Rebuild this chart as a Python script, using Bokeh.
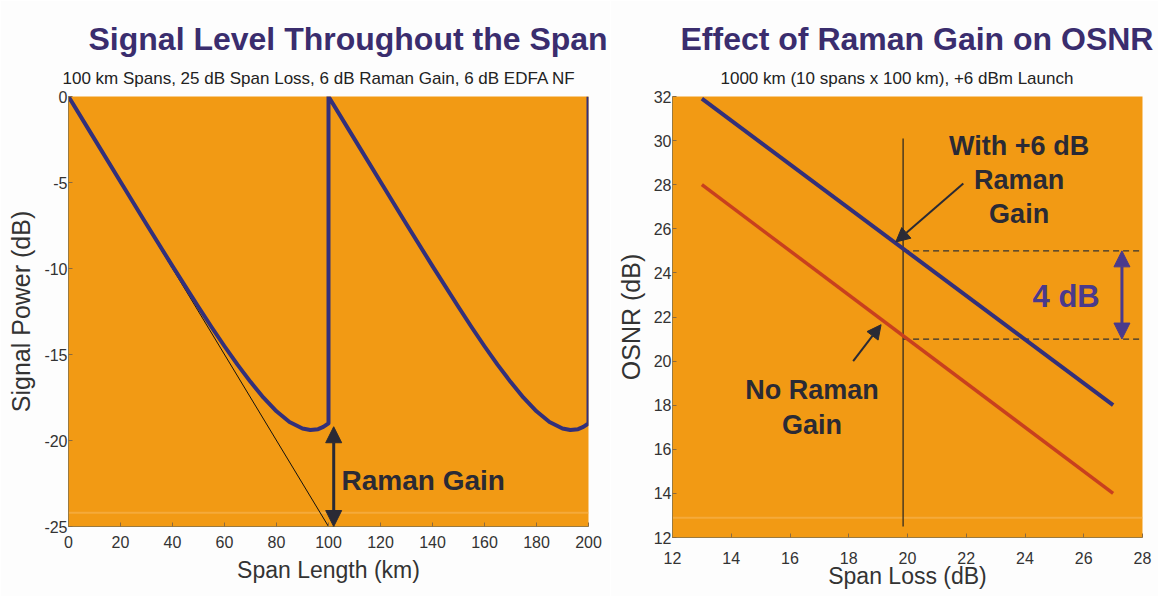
from bokeh.plotting import figure
from bokeh.layouts import row
from bokeh.models import (Title, Arrow, NormalHead, Label, FixedTicker, Range1d,
                          CustomJSTickFormatter)
from bokeh.embed import file_html
from bokeh.resources import INLINE

# ---------------- data ----------------
# Left: signal level through two 100 km spans (with Raman gain)
span_km = [0, 10, 20, 30, 40, 50, 55, 60, 65, 70, 75, 80, 85, 90, 93, 96, 98, 100,
           100, 110, 120, 130, 140, 150, 155, 160, 165, 170, 175, 180, 185, 190, 193, 196, 198, 200, 200]
signal_db = [0, -2.48, -4.96, -7.43, -9.86, -12.24, -13.40, -14.52, -15.59, -16.59, -17.51, -18.30,
             -18.92, -19.30, -19.39, -19.34, -19.21, -19.0,
             0, -2.48, -4.96, -7.43, -9.86, -12.24, -13.40, -14.52, -15.59, -16.59, -17.51, -18.30,
             -18.92, -19.30, -19.39, -19.34, -19.21, -19.0, 0]
# Left: no-Raman linear loss
noraman_km = [0, 100]
noraman_db = [0, -25]

left_xticks = [0, 20, 40, 60, 80, 100, 120, 140, 160, 180, 200]
left_yticks = [-25, -20, -15, -10, -5, 0]

# Right: OSNR vs span loss
span_loss = [13, 27]
osnr_raman = [31.9, 18.0]
osnr_no_raman = [28.0, 14.0]
ref_loss = [19.85, 19.85]
ref_osnr = [12.5, 30.1]
level_raman = 25
level_no_raman = 21

right_xticks = [12, 14, 16, 18, 20, 22, 24, 26, 28]
right_yticks = [12, 14, 16, 18, 20, 22, 24, 26, 28, 30, 32]

# ---------------- style ----------------
ORANGE = "#F29A14"
BAND = "#F6B04A"
NAVY = "#33307A"
RED = "#C8401E"
TITLE_C = "#3A2D6E"
DARK = "#2A2A35"
TXT = "#333333"
FONT = "Liberation Sans"


def style(p, xticks, yticks, x_standoff, x_label_standoff):
    p.frame_align = False
    p.background_fill_color = ORANGE
    p.border_fill_color = "#FDFDFD"
    p.outline_line_color = None
    p.xgrid.visible = False
    p.ygrid.visible = False
    for ax in (p.xaxis[0], p.yaxis[0]):
        ax.axis_line_color = "#9a7a40"
        ax.major_tick_in = 4
        ax.major_tick_out = 0
        ax.major_tick_line_color = "#8a6a40"
        ax.minor_tick_line_color = None
        ax.major_label_text_font = FONT
        ax.major_label_text_font_size = "16px"
        ax.major_label_text_color = TXT
        ax.axis_label_text_font = FONT
        ax.axis_label_text_font_style = "normal"
        ax.axis_label_text_color = TXT
        ax.formatter = CustomJSTickFormatter(code="return tick.toString();")
    p.xaxis[0].axis_label_text_font_size = "23px"
    p.yaxis[0].axis_label_text_font_size = "25px"
    p.xaxis[0].ticker = FixedTicker(ticks=xticks)
    p.yaxis[0].ticker = FixedTicker(ticks=yticks)
    p.xaxis[0].major_label_standoff = x_standoff
    p.yaxis[0].major_label_standoff = 1
    p.xaxis[0].axis_label_standoff = x_label_standoff
    p.yaxis[0].axis_label_standoff = 6


def titles(p, main, sub, main_off, sub_off):
    p.title.text = main
    p.title.align = "left"
    p.title.offset = main_off
    p.title.text_font = FONT
    p.title.text_font_size = "32px"
    p.title.text_font_style = "bold"
    p.title.text_color = TITLE_C
    p.title.standoff = 2
    p.add_layout(Title(text=sub, align="left", offset=sub_off, text_font=FONT,
                       text_font_size="17px", text_font_style="normal",
                       text_color="#222222", standoff=18), "above")


# ---------------- left figure ----------------
p1 = figure(width=610, height=596, output_backend="svg", toolbar_location=None,
            x_range=Range1d(0, 200), y_range=Range1d(-25, 0),
            x_axis_label="Span Length (km)", y_axis_label="Signal Power (dB)",
            min_border_left=68, min_border_right=22, min_border_top=96, min_border_bottom=70)
style(p1, left_xticks, left_yticks, 9, 6)
titles(p1, "Signal Level Throughout the Span",
       "100 km Spans, 25 dB Span Loss, 6 dB Raman Gain, 6 dB EDFA NF", 20, -6)

p1.line([0, 200], [-24.2, -24.2], line_color=BAND, line_width=2, line_alpha=0.7)
p1.line(noraman_km, noraman_db, line_color="#111111", line_width=1)
p1.line(span_km, signal_db, line_color=NAVY, line_width=4, line_join="round")

p1.add_layout(Arrow(start=NormalHead(size=16, fill_color=DARK, line_color=DARK),
                    end=NormalHead(size=16, fill_color=DARK, line_color=DARK),
                    x_start=102, y_start=-25, x_end=102, y_end=-19.2,
                    line_color=DARK, line_width=3))
p1.add_layout(Label(x=105, y=-22.3, text="Raman Gain", text_font=FONT, text_font_size="28px",
                    text_font_style="bold", text_color=DARK, text_baseline="middle"))

# ---------------- right figure ----------------
p2 = figure(width=548, height=596, output_backend="svg", toolbar_location=None,
            x_range=Range1d(12, 28), y_range=Range1d(12, 32),
            x_axis_label="Span Loss (dB)", y_axis_label="OSNR (dB)",
            min_border_left=62, min_border_right=16, min_border_top=96, min_border_bottom=59)
style(p2, right_xticks, right_yticks, 14, -4)
titles(p2, "Effect of Raman Gain on OSNR",
       "1000 km (10 spans x 100 km), +6 dBm Launch", 8, 48)

p2.line([12, 28], [12.9, 12.9], line_color=BAND, line_width=2, line_alpha=0.7)
p2.line(ref_loss, ref_osnr, line_color="#222222", line_width=1.2)
p2.line([ref_loss[0], 28], [level_raman, level_raman], line_color="#333333",
        line_width=1.3, line_dash="6 4")
p2.line([ref_loss[0], 28], [level_no_raman, level_no_raman], line_color="#333333",
        line_width=1.3, line_dash="6 4")
p2.line(span_loss, osnr_no_raman, line_color=RED, line_width=3.5)
p2.line(span_loss, osnr_raman, line_color=NAVY, line_width=4)

PURPLE = "#4A3A8C"
p2.add_layout(Arrow(start=NormalHead(size=16, fill_color=PURPLE, line_color=PURPLE),
                    end=NormalHead(size=16, fill_color=PURPLE, line_color=PURPLE),
                    x_start=27.3, y_start=level_no_raman, x_end=27.3, y_end=level_raman,
                    line_color=PURPLE, line_width=3))
p2.add_layout(Label(x=25.4, y=22.95, text="4 dB", text_font=FONT, text_font_size="31px",
                    text_font_style="bold", text_color=PURPLE, text_align="center",
                    text_baseline="middle"))

for txt, yy in (("With +6 dB", 29.75), ("Raman", 28.2), ("Gain", 26.65)):
    p2.add_layout(Label(x=23.8, y=yy, text=txt, text_font=FONT, text_font_size="27px",
                        text_font_style="bold", text_color=DARK, text_align="center",
                        text_baseline="middle"))
for txt, yy in (("No Raman", 18.7), ("Gain", 17.1)):
    p2.add_layout(Label(x=16.75, y=yy, text=txt, text_font=FONT, text_font_size="27px",
                        text_font_style="bold", text_color=DARK, text_align="center",
                        text_baseline="middle"))

p2.add_layout(Arrow(end=NormalHead(size=14, fill_color=DARK, line_color=DARK),
                    x_start=21.9, y_start=28.05, x_end=19.6, y_end=25.4,
                    line_color=DARK, line_width=2))
p2.add_layout(Arrow(end=NormalHead(size=14, fill_color=DARK, line_color=DARK),
                    x_start=18.15, y_start=20.0, x_end=19.1, y_end=21.65,
                    line_color=DARK, line_width=2))

layout = row(p1, p2)
open("out.html", "w").write(file_html(layout, INLINE))
